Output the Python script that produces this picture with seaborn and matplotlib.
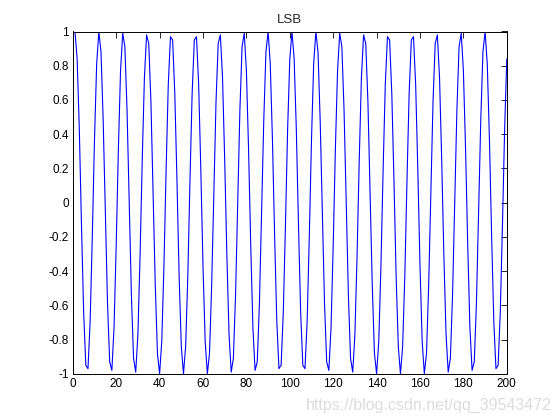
# LSB signal plot (MATLAB style)

import numpy as np
import matplotlib
matplotlib.use("Agg")
import matplotlib.pyplot as plt
import seaborn as sns


# LSB samples, sample index 1..200
lsb = [
    1.00, 0.84, 0.43, -0.13, -0.64, -0.95, -0.97, -0.69, -0.19, 0.37,
    0.81, 1.00, 0.88, 0.48, -0.06, -0.59, -0.93, -0.98, -0.73, -0.25,
    0.31, 0.77, 0.99, 0.91, 0.54, 0.00, -0.54, -0.91, -0.99, -0.77,
    -0.31, 0.25, 0.73, 0.98, 0.93, 0.59, 0.06, -0.48, -0.88, -1.00,
    -0.81, -0.37, 0.19, 0.69, 0.97, 0.95, 0.64, 0.13, -0.43, -0.84,
    -1.00, -0.84, -0.43, 0.13, 0.64, 0.95, 0.97, 0.69, 0.19, -0.37,
    -0.81, -1.00, -0.88, -0.48, 0.06, 0.59, 0.93, 0.98, 0.73, 0.25,
    -0.31, -0.77, -0.99, -0.91, -0.54, 0.00, 0.54, 0.91, 0.99, 0.77,
    0.31, -0.25, -0.73, -0.98, -0.93, -0.59, -0.06, 0.48, 0.88, 1.00,
    0.81, 0.37, -0.19, -0.69, -0.97, -0.95, -0.64, -0.13, 0.43, 0.84,
    1.00, 0.84, 0.43, -0.13, -0.64, -0.95, -0.97, -0.69, -0.19, 0.37,
    0.81, 1.00, 0.88, 0.48, -0.06, -0.59, -0.93, -0.98, -0.73, -0.25,
    0.31, 0.77, 0.99, 0.91, 0.54, 0.00, -0.54, -0.91, -0.99, -0.77,
    -0.31, 0.25, 0.73, 0.98, 0.93, 0.59, 0.06, -0.48, -0.88, -1.00,
    -0.81, -0.37, 0.19, 0.69, 0.97, 0.95, 0.64, 0.13, -0.43, -0.84,
    -1.00, -0.84, -0.43, 0.13, 0.64, 0.95, 0.97, 0.69, 0.19, -0.37,
    -0.81, -1.00, -0.88, -0.48, 0.06, 0.59, 0.93, 0.98, 0.73, 0.25,
    -0.31, -0.77, -0.99, -0.91, -0.54, 0.00, 0.54, 0.91, 0.99, 0.77,
    0.31, -0.25, -0.73, -0.98, -0.93, -0.59, -0.06, 0.48, 0.88, 1.00,
    0.81, 0.37, -0.19, -0.69, -0.97, -0.95, -0.64, -0.13, 0.43, 0.84,
]
sample_idx = np.arange(1, len(lsb) + 1)

x_ticks = [0, 20, 40, 60, 80, 100, 120, 140, 160, 180, 200]
y_ticks = [-1, -0.8, -0.6, -0.4, -0.2, 0, 0.2, 0.4, 0.6, 0.8, 1]
y_labels = ["-1", "-0.8", "-0.6", "-0.4", "-0.2", "0", "0.2", "0.4", "0.6", "0.8", "1"]


def main():
    sns.set_style("white")
    plt.rcParams["font.family"] = ["Liberation Sans", "DejaVu Sans"]

    fig = plt.figure(figsize=(5.6, 4.2), dpi=100)
    ax = fig.add_axes([0.13, 0.11, 0.775, 0.815])

    sns.lineplot(x=sample_idx, y=lsb, color="#0000ff", linewidth=0.8, ax=ax)

    ax.set_xlim(0, 200)
    ax.set_ylim(-1, 1)
    ax.set_xticks(x_ticks)
    ax.set_xticklabels([str(t) for t in x_ticks])
    ax.set_yticks(y_ticks)
    ax.set_yticklabels(y_labels)
    ax.tick_params(direction="in", top=True, right=True, length=4, width=0.6,
                   labelsize=8.5, pad=3, colors="black")
    for s in ax.spines.values():
        s.set_color("black")
        s.set_linewidth(0.7)
    ax.set_xlabel("")
    ax.set_ylabel("")
    ax.set_title("LSB", fontsize=9.5, pad=6)

    # watermark
    fig.text(0.985, 0.035, "https://blog.csdn.net/qq_39543472", ha="right", va="center",
             fontsize=11.5, color="#dcdcdc")

    fig.savefig("out.png", dpi=100)


if __name__ == "__main__":
    main()
